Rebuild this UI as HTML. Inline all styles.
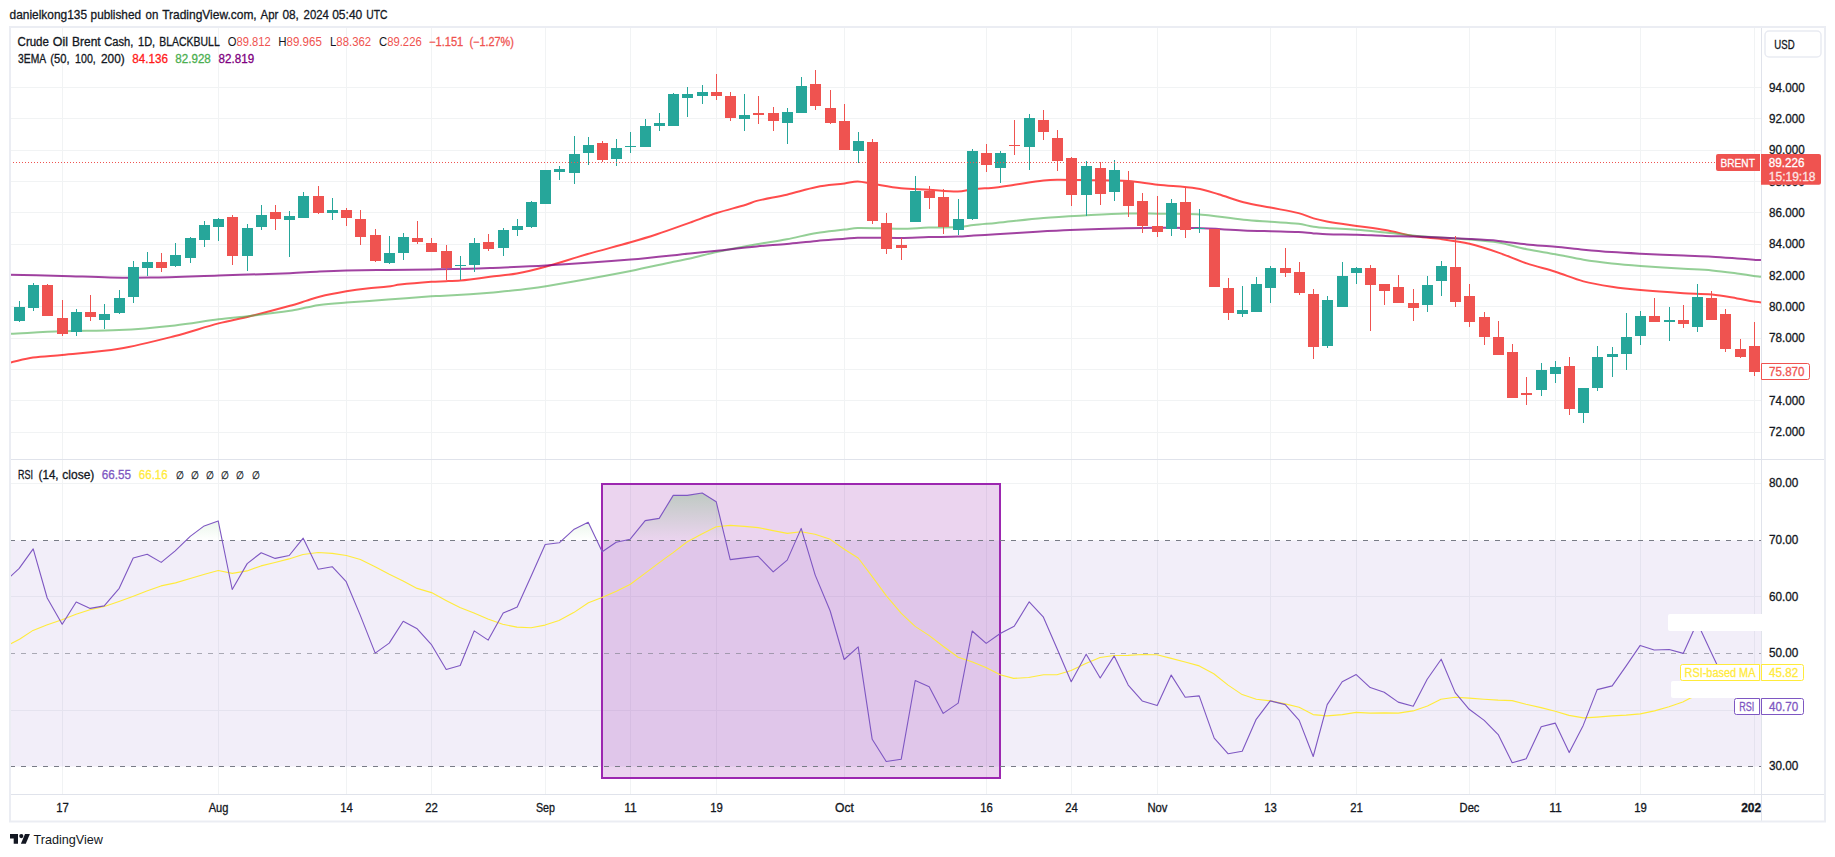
<!DOCTYPE html>
<html lang="en"><head><meta charset="utf-8"><title>Crude Oil Brent Cash chart</title>
<style>html,body{margin:0;padding:0;background:#fff}body{width:1835px;height:857px;overflow:hidden}</style></head>
<body>
<svg width="1835" height="857" viewBox="0 0 1835 857" font-family='"Liberation Sans", sans-serif' style="display:block">
<rect width="1835" height="857" fill="#fff"/>
<g shape-rendering="crispEdges">
<rect x="62" y="28" width="1" height="766" fill="#f1f3f4"/>
<rect x="218" y="28" width="1" height="766" fill="#f1f3f4"/>
<rect x="346" y="28" width="1" height="766" fill="#f1f3f4"/>
<rect x="431" y="28" width="1" height="766" fill="#f1f3f4"/>
<rect x="545" y="28" width="1" height="766" fill="#f1f3f4"/>
<rect x="630" y="28" width="1" height="766" fill="#f1f3f4"/>
<rect x="716" y="28" width="1" height="766" fill="#f1f3f4"/>
<rect x="844" y="28" width="1" height="766" fill="#f1f3f4"/>
<rect x="986" y="28" width="1" height="766" fill="#f1f3f4"/>
<rect x="1071" y="28" width="1" height="766" fill="#f1f3f4"/>
<rect x="1157" y="28" width="1" height="766" fill="#f1f3f4"/>
<rect x="1270" y="28" width="1" height="766" fill="#f1f3f4"/>
<rect x="1356" y="28" width="1" height="766" fill="#f1f3f4"/>
<rect x="1469" y="28" width="1" height="766" fill="#f1f3f4"/>
<rect x="1555" y="28" width="1" height="766" fill="#f1f3f4"/>
<rect x="1640" y="28" width="1" height="766" fill="#f1f3f4"/>
<rect x="1754" y="28" width="1" height="766" fill="#f1f3f4"/>
<rect x="10" y="87" width="1751" height="1" fill="#f1f3f4"/>
<rect x="10" y="118" width="1751" height="1" fill="#f1f3f4"/>
<rect x="10" y="150" width="1751" height="1" fill="#f1f3f4"/>
<rect x="10" y="181" width="1751" height="1" fill="#f1f3f4"/>
<rect x="10" y="212" width="1751" height="1" fill="#f1f3f4"/>
<rect x="10" y="244" width="1751" height="1" fill="#f1f3f4"/>
<rect x="10" y="275" width="1751" height="1" fill="#f1f3f4"/>
<rect x="10" y="306" width="1751" height="1" fill="#f1f3f4"/>
<rect x="10" y="338" width="1751" height="1" fill="#f1f3f4"/>
<rect x="10" y="369" width="1751" height="1" fill="#f1f3f4"/>
<rect x="10" y="400" width="1751" height="1" fill="#f1f3f4"/>
<rect x="10" y="432" width="1751" height="1" fill="#f1f3f4"/>
<rect x="10" y="483" width="1751" height="1" fill="#f1f3f4"/>
<rect x="10" y="596" width="1751" height="1" fill="#f1f3f4"/>
<rect x="10" y="710" width="1751" height="1" fill="#f1f3f4"/>
</g>
<defs>
<linearGradient id="ob" gradientUnits="userSpaceOnUse" x1="0" y1="370" x2="0" y2="540.5"><stop offset="0" stop-color="#4caf50" stop-opacity="1"/><stop offset="1" stop-color="#4caf50" stop-opacity="0"/></linearGradient>
<clipPath id="rsiclip"><rect x="10" y="460" width="1751" height="334"/></clipPath>
<clipPath id="mainclip"><rect x="10" y="28" width="1751" height="431"/></clipPath>
<clipPath id="above70"><rect x="10" y="460" width="1751" height="80.5"/></clipPath>
</defs>
<rect x="10" y="540.5" width="1751" height="226" fill="#7e57c2" fill-opacity="0.1"/>
<rect x="602" y="484" width="398" height="294" fill="#9c27b0" fill-opacity="0.2" stroke="#9c27b0" stroke-width="2"/>
<path d="M10.3,576.7 L19.2,568.4 L33.2,548.9 L47.2,598.0 L62.2,624.3 L76.2,602.0 L90.2,608.4 L104.2,605.9 L119.2,588.3 L133.2,558.0 L147.2,554.2 L161.2,562.4 L175.2,550.8 L190.2,536.4 L204.2,525.9 L218.2,520.9 L232.2,589.5 L247.2,563.6 L261.2,552.7 L275.2,558.4 L289.2,555.5 L303.2,538.2 L318.2,569.2 L332.2,566.7 L346.2,581.7 L360.2,615.1 L375.2,653.1 L389.2,643.1 L403.2,621.3 L417.2,628.8 L431.2,644.3 L446.2,669.5 L460.2,665.5 L474.2,630.9 L488.2,640.1 L503.2,613.1 L517.2,607.1 L531.2,575.9 L545.2,544.5 L559.2,542.8 L574.2,529.2 L588.2,522.2 L602.2,551.8 L616.2,542.2 L630.2,539.2 L645.2,520.6 L659.2,518.4 L673.2,495.4 L687.2,495.4 L702.2,493.0 L716.2,501.7 L730.2,559.6 L744.2,557.9 L758.2,556.3 L773.2,571.8 L787.2,560.1 L801.2,528.4 L815.2,575.1 L830.2,611.0 L844.2,659.5 L858.2,646.9 L872.2,739.3 L886.2,761.5 L901.2,759.3 L915.2,680.5 L929.2,686.7 L943.2,713.4 L958.2,703.1 L972.2,631.0 L986.2,643.4 L1000.2,633.5 L1014.2,626.3 L1029.2,601.8 L1043.2,616.8 L1057.2,649.0 L1071.2,681.7 L1086.2,654.2 L1100.2,678.0 L1114.2,655.9 L1128.2,685.1 L1142.2,700.9 L1157.2,705.6 L1171.2,675.1 L1185.2,697.2 L1199.2,695.9 L1214.2,738.1 L1228.2,753.8 L1242.2,751.3 L1256.2,719.3 L1270.2,700.9 L1285.2,704.6 L1299.2,720.4 L1313.2,756.5 L1327.2,704.6 L1342.2,681.7 L1356.2,674.6 L1370.2,687.6 L1384.2,692.2 L1398.2,702.1 L1413.2,706.3 L1427.2,679.2 L1441.2,659.2 L1455.2,692.6 L1469.2,709.3 L1484.2,720.4 L1498.2,734.6 L1512.2,762.7 L1526.2,758.8 L1541.2,726.8 L1555.2,723.1 L1569.2,752.6 L1583.2,725.4 L1597.2,689.6 L1612.2,685.9 L1626.2,665.9 L1640.2,645.4 L1654.2,650.0 L1669.2,649.5 L1683.2,653.4 L1697.2,622.5 L1711.2,652.5 L1725.2,682.0 L1740.2,690.0 L1754.2,705.5 L1754.2,540.5 L10.3,540.5 Z" fill="url(#ob)" clip-path="url(#above70)"/>
<g shape-rendering="crispEdges">
<line x1="10" y1="540.5" x2="1761" y2="540.5" stroke="#787b86" stroke-width="1" stroke-dasharray="5 6"/>
<line x1="10" y1="653.5" x2="1761" y2="653.5" stroke="#787b86" stroke-opacity="0.6" stroke-width="1" stroke-dasharray="5 6"/>
<line x1="10" y1="766.5" x2="1761" y2="766.5" stroke="#787b86" stroke-width="1" stroke-dasharray="5 6"/>
</g>
<polyline fill="none" stroke="#ffeb3b" stroke-width="1.1" stroke-linejoin="round" points="10.3,644.0 19.5,639.3 33.0,630.4 46.7,625.1 62.0,619.8 76.0,614.3 90.0,609.7 104.3,606.4 119.0,601.4 132.7,596.4 146.8,590.9 161.0,585.9 175.5,582.9 189.4,578.7 204.6,574.2 218.3,570.5 232.3,573.4 247.0,570.9 261.0,565.9 275.0,562.5 289.0,558.9 303.0,554.5 318.0,552.5 332.2,553.4 346.4,555.5 360.4,559.5 375.1,566.7 389.3,574.2 403.1,580.9 417.1,588.4 431.5,592.6 446.0,600.4 459.9,607.6 474.0,613.1 487.9,618.9 502.7,624.3 516.9,627.1 531.1,627.8 545.0,625.1 559.0,620.4 573.7,612.6 588.4,602.8 602.0,597.6 616.4,591.3 630.4,584.3 645.0,573.4 659.3,562.6 673.1,552.6 687.3,541.7 701.8,533.9 716.2,526.7 730.2,525.4 744.4,526.4 758.2,527.6 773.0,530.6 787.3,533.4 801.1,531.7 815.0,534.2 829.5,538.9 844.3,549.2 858.2,558.0 871.7,575.9 886.4,595.9 901.3,613.4 915.1,626.4 929.3,635.6 943.1,646.3 958.2,657.3 971.8,661.8 986.0,667.6 1000.2,674.7 1013.6,678.4 1028.6,677.5 1043.6,674.7 1057.0,674.7 1071.1,670.5 1085.8,663.4 1100.0,657.5 1114.0,655.5 1128.0,655.4 1142.0,654.5 1157.0,654.7 1171.2,658.4 1185.1,662.0 1199.3,665.9 1213.8,673.7 1228.1,685.1 1242.2,694.6 1256.3,699.2 1270.5,700.9 1285.2,703.9 1299.1,707.3 1313.1,714.6 1326.9,715.9 1342.3,714.6 1356.1,712.4 1370.0,713.1 1384.2,712.9 1398.3,713.1 1413.0,710.9 1427.5,705.9 1440.9,699.2 1455.1,697.2 1469.2,698.1 1483.9,699.2 1498.1,700.1 1512.1,700.6 1526.0,704.3 1541.0,707.6 1555.2,711.3 1569.0,715.4 1583.5,717.9 1596.9,717.1 1611.9,715.9 1626.1,715.1 1640.3,713.9 1654.5,710.9 1669.0,706.8 1682.8,701.9 1690.0,698.2 1711.0,690.0 1725.0,685.0 1740.0,681.0 1754.5,677.1" clip-path="url(#rsiclip)"/>
<polyline fill="none" stroke="#7e57c2" stroke-width="1.1" stroke-linejoin="round" points="10.3,576.7 19.2,568.4 33.2,548.9 47.2,598.0 62.2,624.3 76.2,602.0 90.2,608.4 104.2,605.9 119.2,588.3 133.2,558.0 147.2,554.2 161.2,562.4 175.2,550.8 190.2,536.4 204.2,525.9 218.2,520.9 232.2,589.5 247.2,563.6 261.2,552.7 275.2,558.4 289.2,555.5 303.2,538.2 318.2,569.2 332.2,566.7 346.2,581.7 360.2,615.1 375.2,653.1 389.2,643.1 403.2,621.3 417.2,628.8 431.2,644.3 446.2,669.5 460.2,665.5 474.2,630.9 488.2,640.1 503.2,613.1 517.2,607.1 531.2,575.9 545.2,544.5 559.2,542.8 574.2,529.2 588.2,522.2 602.2,551.8 616.2,542.2 630.2,539.2 645.2,520.6 659.2,518.4 673.2,495.4 687.2,495.4 702.2,493.0 716.2,501.7 730.2,559.6 744.2,557.9 758.2,556.3 773.2,571.8 787.2,560.1 801.2,528.4 815.2,575.1 830.2,611.0 844.2,659.5 858.2,646.9 872.2,739.3 886.2,761.5 901.2,759.3 915.2,680.5 929.2,686.7 943.2,713.4 958.2,703.1 972.2,631.0 986.2,643.4 1000.2,633.5 1014.2,626.3 1029.2,601.8 1043.2,616.8 1057.2,649.0 1071.2,681.7 1086.2,654.2 1100.2,678.0 1114.2,655.9 1128.2,685.1 1142.2,700.9 1157.2,705.6 1171.2,675.1 1185.2,697.2 1199.2,695.9 1214.2,738.1 1228.2,753.8 1242.2,751.3 1256.2,719.3 1270.2,700.9 1285.2,704.6 1299.2,720.4 1313.2,756.5 1327.2,704.6 1342.2,681.7 1356.2,674.6 1370.2,687.6 1384.2,692.2 1398.2,702.1 1413.2,706.3 1427.2,679.2 1441.2,659.2 1455.2,692.6 1469.2,709.3 1484.2,720.4 1498.2,734.6 1512.2,762.7 1526.2,758.8 1541.2,726.8 1555.2,723.1 1569.2,752.6 1583.2,725.4 1597.2,689.6 1612.2,685.9 1626.2,665.9 1640.2,645.4 1654.2,650.0 1669.2,649.5 1683.2,653.4 1697.2,622.5 1711.2,652.5 1725.2,682.0 1740.2,690.0 1754.2,705.5" clip-path="url(#rsiclip)"/>
<path fill="none" stroke="#ff0000" stroke-opacity="0.7" stroke-width="2" stroke-linejoin="round" d="M10.0,362.7 C17.7,361.00 25.3,358.72 33.0,357.6 C42.7,356.19 52.3,356.09 62.0,355.1 C81.0,353.16 100.0,352.01 119.0,348.8 C137.7,345.64 156.3,340.76 175.0,336.0 C189.5,332.29 204.1,327.22 218.6,323.4 C229.1,320.65 239.5,318.88 250.0,316.3 C263.3,313.01 276.7,309.47 290.0,305.8 C295.3,304.33 300.7,302.55 306.0,300.9 C310.5,299.52 314.9,297.76 319.4,296.7 C328.4,294.56 337.4,292.87 346.4,291.3 C353.3,290.10 360.1,289.17 367.0,288.4 C374.0,287.61 381.1,287.41 388.1,286.6 C392.1,286.14 396.0,285.04 400.0,284.6 C410.4,283.44 420.9,282.57 431.3,281.8 C436.2,281.44 441.1,281.43 446.0,281.2 C450.8,280.97 455.7,280.76 460.5,280.4 C463.7,280.16 466.8,279.79 470.0,279.4 C476.7,278.59 483.3,277.64 490.0,276.8 C498.9,275.67 507.9,275.11 516.8,273.5 C526.4,271.78 535.9,269.42 545.5,266.8 C559.3,263.02 573.0,258.26 586.8,254.3 C601.4,250.10 616.0,246.47 630.6,242.3 C639.4,239.80 648.1,237.21 656.9,234.3 C667.9,230.64 679.0,226.53 690.0,222.6 C698.9,219.43 707.8,215.84 716.7,213.0 C726.5,209.88 736.2,207.65 746.0,204.7 C749.6,203.62 753.1,201.77 756.7,200.9 C766.7,198.44 776.8,197.02 786.8,194.7 C796.8,192.39 806.8,188.95 816.8,187.0 C826.1,185.18 835.4,184.67 844.7,183.4 C849.0,182.81 853.4,181.34 857.7,181.4 C862.5,181.47 867.2,183.04 872.0,183.8 C881.7,185.34 891.3,187.29 901.0,188.3 C910.2,189.26 919.4,189.18 928.6,189.7 C938.3,190.25 948.1,191.61 957.8,191.5 C963.1,191.44 968.4,189.75 973.7,189.2 C981.1,188.42 988.6,188.30 996.0,187.5 C1002.2,186.83 1008.4,185.70 1014.6,184.8 C1024.3,183.40 1033.9,181.74 1043.6,180.6 C1048.1,180.07 1052.5,179.84 1057.0,179.8 C1068.0,179.71 1079.0,180.05 1090.0,180.2 C1096.7,180.29 1103.3,180.36 1110.0,180.5 C1116.2,180.63 1122.3,180.46 1128.5,181.0 C1138.2,181.86 1147.9,183.65 1157.6,184.7 C1170.7,186.12 1183.7,186.36 1196.8,188.4 C1204.0,189.53 1211.3,192.06 1218.5,194.2 C1226.8,196.66 1235.2,200.05 1243.5,202.2 C1252.5,204.52 1261.5,205.82 1270.5,207.6 C1279.9,209.45 1289.2,210.75 1298.6,213.1 C1303.6,214.35 1308.6,216.93 1313.6,218.4 C1318.0,219.70 1322.5,220.63 1326.9,221.4 C1336.8,223.13 1346.7,224.43 1356.6,225.9 C1366.2,227.33 1375.7,228.40 1385.3,230.1 C1395.8,231.97 1406.4,234.91 1416.9,236.6 C1425.3,237.94 1433.6,238.05 1442.0,239.2 C1451.2,240.45 1460.3,241.62 1469.5,243.8 C1479.1,246.09 1488.8,249.30 1498.4,252.6 C1507.8,255.83 1517.3,260.22 1526.7,263.4 C1536.3,266.62 1545.8,268.77 1555.4,271.8 C1564.8,274.77 1574.1,278.91 1583.5,281.4 C1592.9,283.91 1602.4,285.36 1611.8,286.8 C1621.4,288.26 1630.9,289.25 1640.5,290.1 C1654.9,291.38 1669.2,292.32 1683.6,293.2 C1693.1,293.78 1702.5,293.58 1712.0,294.5 C1720.3,295.31 1728.7,297.00 1737.0,298.4 C1742.6,299.33 1748.1,300.57 1753.7,301.5 C1756.1,301.91 1758.6,302.10 1761.0,302.4" clip-path="url(#mainclip)"/>
<path fill="none" stroke="#4caf50" stroke-opacity="0.6" stroke-width="2" stroke-linejoin="round" d="M10.0,333.8 C27.3,332.97 44.7,331.89 62.0,331.3 C81.0,330.66 100.0,331.09 119.0,330.1 C137.7,329.13 156.3,327.42 175.0,325.4 C189.5,323.82 204.1,321.14 218.6,319.3 C229.1,317.97 239.5,317.16 250.0,315.9 C263.3,314.29 276.7,312.68 290.0,310.7 C295.3,309.91 300.7,308.63 306.0,307.6 C310.5,306.73 314.9,305.55 319.4,305.0 C328.4,303.89 337.4,303.31 346.4,302.6 C360.3,301.51 374.2,300.65 388.1,299.6 C402.5,298.51 416.9,297.20 431.3,296.2 C434.2,296.00 437.1,296.14 440.0,296.0 C450.0,295.51 460.0,294.96 470.0,294.3 C476.7,293.86 483.3,293.34 490.0,292.7 C503.3,291.41 516.7,290.29 530.0,288.5 C544.5,286.56 559.0,284.02 573.5,281.5 C592.5,278.19 611.6,274.75 630.6,271.0 C644.9,268.18 659.3,264.82 673.6,261.8 C679.1,260.65 684.5,259.74 690.0,258.5 C698.9,256.48 707.8,253.89 716.7,252.0 C730.0,249.16 743.4,246.72 756.7,244.3 C766.7,242.48 776.8,241.20 786.8,239.3 C796.8,237.40 806.8,234.58 816.8,232.9 C826.1,231.34 835.4,230.74 844.7,229.6 C849.0,229.07 853.4,227.96 857.7,227.9 C872.1,227.69 886.6,228.86 901.0,228.8 C910.2,228.76 919.4,227.88 928.6,227.6 C938.3,227.31 948.1,227.64 957.8,227.1 C963.1,226.81 968.4,225.68 973.7,225.1 C981.1,224.28 988.6,223.67 996.0,222.9 C1011.9,221.27 1027.7,219.23 1043.6,217.9 C1058.1,216.69 1072.5,216.05 1087.0,215.3 C1100.0,214.62 1113.0,213.89 1126.0,213.6 C1136.5,213.36 1147.1,213.61 1157.6,213.7 C1170.7,213.81 1183.7,213.29 1196.8,214.2 C1212.4,215.29 1227.9,218.09 1243.5,219.7 C1252.5,220.63 1261.5,221.13 1270.5,221.8 C1279.9,222.50 1289.2,222.71 1298.6,223.8 C1303.6,224.38 1308.6,226.04 1313.6,226.8 C1318.0,227.47 1322.5,227.79 1326.9,228.1 C1336.8,228.79 1346.7,229.04 1356.6,229.8 C1366.2,230.54 1375.7,231.63 1385.3,232.6 C1395.8,233.67 1406.4,235.05 1416.9,235.9 C1434.4,237.32 1452.0,237.98 1469.5,239.4 C1479.1,240.18 1488.8,240.85 1498.4,242.5 C1507.8,244.12 1517.3,247.26 1526.7,249.2 C1536.3,251.16 1545.8,252.43 1555.4,254.2 C1564.8,255.93 1574.1,258.17 1583.5,259.7 C1592.9,261.24 1602.4,262.37 1611.8,263.4 C1621.4,264.44 1630.9,265.19 1640.5,265.9 C1654.9,266.96 1669.2,267.80 1683.6,268.7 C1693.1,269.30 1702.5,269.57 1712.0,270.4 C1720.3,271.13 1728.7,272.30 1737.0,273.4 C1742.6,274.13 1748.1,275.11 1753.7,275.9 C1756.1,276.24 1758.6,276.50 1761.0,276.8" clip-path="url(#mainclip)"/>
<path fill="none" stroke="#800080" stroke-opacity="0.74" stroke-width="2" stroke-linejoin="round" d="M10.0,274.7 C27.3,275.10 44.7,275.41 62.0,275.9 C78.0,276.35 94.0,277.19 110.0,277.5 C123.3,277.76 136.7,277.85 150.0,277.6 C172.9,277.18 195.7,276.22 218.6,275.5 C242.4,274.75 266.2,274.14 290.0,273.2 C299.8,272.81 309.6,271.97 319.4,271.5 C328.4,271.07 337.4,270.71 346.4,270.5 C360.3,270.18 374.2,270.08 388.1,269.9 C402.5,269.71 416.9,269.59 431.3,269.4 C444.2,269.23 457.1,269.09 470.0,268.8 C476.7,268.65 483.3,268.38 490.0,268.1 C508.5,267.32 527.0,266.72 545.5,265.6 C573.9,263.89 602.2,261.98 630.6,259.6 C650.4,257.94 670.2,255.55 690.0,253.5 C698.9,252.58 707.8,251.65 716.7,250.7 C730.0,249.28 743.4,247.69 756.7,246.4 C766.7,245.43 776.8,244.82 786.8,243.9 C796.8,242.98 806.8,241.78 816.8,240.9 C826.1,240.08 835.4,239.53 844.7,238.8 C849.0,238.46 853.4,237.77 857.7,237.7 C872.1,237.47 886.6,238.02 901.0,237.9 C910.2,237.82 919.4,237.31 928.6,237.1 C938.3,236.88 948.1,236.92 957.8,236.6 C963.1,236.42 968.4,235.92 973.7,235.6 C981.1,235.15 988.6,234.76 996.0,234.3 C1009.7,233.46 1023.3,232.49 1037.0,231.7 C1048.0,231.06 1059.0,230.42 1070.0,230.0 C1088.7,229.29 1107.3,228.77 1126.0,228.3 C1136.5,228.04 1147.1,227.83 1157.6,227.8 C1170.7,227.76 1183.7,227.70 1196.8,228.1 C1212.4,228.57 1227.9,229.72 1243.5,230.4 C1252.5,230.79 1261.5,231.02 1270.5,231.3 C1279.9,231.59 1289.2,231.64 1298.6,232.1 C1303.6,232.34 1308.6,233.01 1313.6,233.4 C1318.0,233.74 1322.5,234.16 1326.9,234.3 C1336.8,234.62 1346.7,234.53 1356.6,234.8 C1366.2,235.06 1375.7,235.61 1385.3,235.9 C1395.8,236.21 1406.4,236.21 1416.9,236.6 C1434.4,237.25 1452.0,238.07 1469.5,239.0 C1479.1,239.51 1488.8,239.99 1498.4,240.9 C1507.8,241.79 1517.3,243.44 1526.7,244.4 C1536.3,245.37 1545.8,245.81 1555.4,246.7 C1564.8,247.57 1574.1,248.80 1583.5,249.7 C1592.9,250.60 1602.4,251.44 1611.8,252.1 C1621.4,252.77 1630.9,253.23 1640.5,253.7 C1654.9,254.40 1669.2,255.00 1683.6,255.6 C1693.1,256.00 1702.5,256.20 1712.0,256.7 C1720.3,257.14 1728.7,257.80 1737.0,258.4 C1742.6,258.80 1748.1,259.31 1753.7,259.7 C1756.1,259.87 1758.6,259.97 1761.0,260.1" clip-path="url(#mainclip)"/>
<g shape-rendering="crispEdges">
<rect x="19" y="301" width="1" height="21" fill="#26a69a"/>
<rect x="14" y="307" width="11" height="14" fill="#26a69a"/>
<rect x="33" y="283" width="1" height="28" fill="#26a69a"/>
<rect x="28" y="285" width="11" height="23" fill="#26a69a"/>
<rect x="47" y="284" width="1" height="32" fill="#ef5350"/>
<rect x="42" y="285" width="11" height="31" fill="#ef5350"/>
<rect x="62" y="300" width="1" height="36" fill="#ef5350"/>
<rect x="57" y="318" width="11" height="16" fill="#ef5350"/>
<rect x="76" y="309" width="1" height="27" fill="#26a69a"/>
<rect x="71" y="312" width="11" height="20" fill="#26a69a"/>
<rect x="90" y="295" width="1" height="26" fill="#ef5350"/>
<rect x="85" y="312" width="11" height="5" fill="#ef5350"/>
<rect x="104" y="304" width="1" height="25" fill="#26a69a"/>
<rect x="99" y="314" width="11" height="6" fill="#26a69a"/>
<rect x="119" y="290" width="1" height="24" fill="#26a69a"/>
<rect x="114" y="298" width="11" height="15" fill="#26a69a"/>
<rect x="133" y="261" width="1" height="42" fill="#26a69a"/>
<rect x="128" y="267" width="11" height="30" fill="#26a69a"/>
<rect x="147" y="252" width="1" height="24" fill="#26a69a"/>
<rect x="142" y="262" width="11" height="6" fill="#26a69a"/>
<rect x="161" y="253" width="1" height="19" fill="#ef5350"/>
<rect x="156" y="262" width="11" height="6" fill="#ef5350"/>
<rect x="175" y="243" width="1" height="24" fill="#26a69a"/>
<rect x="170" y="255" width="11" height="11" fill="#26a69a"/>
<rect x="190" y="237" width="1" height="26" fill="#26a69a"/>
<rect x="185" y="238" width="11" height="20" fill="#26a69a"/>
<rect x="204" y="221" width="1" height="26" fill="#26a69a"/>
<rect x="199" y="225" width="11" height="15" fill="#26a69a"/>
<rect x="218" y="218" width="1" height="23" fill="#26a69a"/>
<rect x="213" y="219" width="11" height="8" fill="#26a69a"/>
<rect x="232" y="215" width="1" height="50" fill="#ef5350"/>
<rect x="227" y="217" width="11" height="39" fill="#ef5350"/>
<rect x="247" y="224" width="1" height="47" fill="#26a69a"/>
<rect x="242" y="228" width="11" height="28" fill="#26a69a"/>
<rect x="261" y="205" width="1" height="25" fill="#26a69a"/>
<rect x="256" y="215" width="11" height="12" fill="#26a69a"/>
<rect x="275" y="205" width="1" height="25" fill="#ef5350"/>
<rect x="270" y="212" width="11" height="7" fill="#ef5350"/>
<rect x="289" y="211" width="1" height="46" fill="#26a69a"/>
<rect x="284" y="216" width="11" height="4" fill="#26a69a"/>
<rect x="303" y="192" width="1" height="26" fill="#26a69a"/>
<rect x="298" y="196" width="11" height="22" fill="#26a69a"/>
<rect x="318" y="186" width="1" height="28" fill="#ef5350"/>
<rect x="313" y="196" width="11" height="17" fill="#ef5350"/>
<rect x="332" y="198" width="1" height="22" fill="#26a69a"/>
<rect x="327" y="210" width="11" height="3" fill="#26a69a"/>
<rect x="346" y="208" width="1" height="18" fill="#ef5350"/>
<rect x="341" y="210" width="11" height="8" fill="#ef5350"/>
<rect x="360" y="210" width="1" height="35" fill="#ef5350"/>
<rect x="355" y="219" width="11" height="18" fill="#ef5350"/>
<rect x="375" y="229" width="1" height="33" fill="#ef5350"/>
<rect x="370" y="235" width="11" height="26" fill="#ef5350"/>
<rect x="389" y="236" width="1" height="28" fill="#26a69a"/>
<rect x="384" y="253" width="11" height="10" fill="#26a69a"/>
<rect x="403" y="233" width="1" height="27" fill="#26a69a"/>
<rect x="398" y="237" width="11" height="16" fill="#26a69a"/>
<rect x="417" y="221" width="1" height="23" fill="#ef5350"/>
<rect x="412" y="238" width="11" height="4" fill="#ef5350"/>
<rect x="431" y="238" width="1" height="14" fill="#ef5350"/>
<rect x="426" y="243" width="11" height="9" fill="#ef5350"/>
<rect x="446" y="245" width="1" height="35" fill="#ef5350"/>
<rect x="441" y="251" width="11" height="17" fill="#ef5350"/>
<rect x="460" y="256" width="1" height="24" fill="#26a69a"/>
<rect x="455" y="265" width="11" height="1" fill="#26a69a"/>
<rect x="474" y="238" width="1" height="34" fill="#26a69a"/>
<rect x="469" y="243" width="11" height="22" fill="#26a69a"/>
<rect x="488" y="234" width="1" height="17" fill="#ef5350"/>
<rect x="483" y="242" width="11" height="7" fill="#ef5350"/>
<rect x="503" y="228" width="1" height="28" fill="#26a69a"/>
<rect x="498" y="230" width="11" height="18" fill="#26a69a"/>
<rect x="517" y="219" width="1" height="17" fill="#26a69a"/>
<rect x="512" y="226" width="11" height="4" fill="#26a69a"/>
<rect x="531" y="201" width="1" height="27" fill="#26a69a"/>
<rect x="526" y="202" width="11" height="25" fill="#26a69a"/>
<rect x="545" y="170" width="1" height="34" fill="#26a69a"/>
<rect x="540" y="170" width="11" height="34" fill="#26a69a"/>
<rect x="559" y="166" width="1" height="14" fill="#26a69a"/>
<rect x="554" y="169" width="11" height="3" fill="#26a69a"/>
<rect x="574" y="136" width="1" height="48" fill="#26a69a"/>
<rect x="569" y="154" width="11" height="19" fill="#26a69a"/>
<rect x="588" y="137" width="1" height="28" fill="#26a69a"/>
<rect x="583" y="145" width="11" height="8" fill="#26a69a"/>
<rect x="602" y="141" width="1" height="21" fill="#ef5350"/>
<rect x="597" y="143" width="11" height="17" fill="#ef5350"/>
<rect x="616" y="139" width="1" height="27" fill="#26a69a"/>
<rect x="611" y="148" width="11" height="11" fill="#26a69a"/>
<rect x="630" y="132" width="1" height="21" fill="#26a69a"/>
<rect x="625" y="146" width="11" height="1" fill="#26a69a"/>
<rect x="645" y="119" width="1" height="28" fill="#26a69a"/>
<rect x="640" y="126" width="11" height="21" fill="#26a69a"/>
<rect x="659" y="113" width="1" height="18" fill="#26a69a"/>
<rect x="654" y="123" width="11" height="3" fill="#26a69a"/>
<rect x="673" y="93" width="1" height="33" fill="#26a69a"/>
<rect x="668" y="94" width="11" height="32" fill="#26a69a"/>
<rect x="687" y="87" width="1" height="30" fill="#26a69a"/>
<rect x="682" y="94" width="11" height="4" fill="#26a69a"/>
<rect x="702" y="85" width="1" height="19" fill="#26a69a"/>
<rect x="697" y="92" width="11" height="4" fill="#26a69a"/>
<rect x="716" y="74" width="1" height="26" fill="#ef5350"/>
<rect x="711" y="92" width="11" height="4" fill="#ef5350"/>
<rect x="730" y="92" width="1" height="29" fill="#ef5350"/>
<rect x="725" y="96" width="11" height="22" fill="#ef5350"/>
<rect x="744" y="94" width="1" height="37" fill="#26a69a"/>
<rect x="739" y="115" width="11" height="4" fill="#26a69a"/>
<rect x="758" y="96" width="1" height="28" fill="#ef5350"/>
<rect x="753" y="113" width="11" height="2" fill="#ef5350"/>
<rect x="773" y="107" width="1" height="24" fill="#ef5350"/>
<rect x="768" y="113" width="11" height="8" fill="#ef5350"/>
<rect x="787" y="108" width="1" height="36" fill="#26a69a"/>
<rect x="782" y="112" width="11" height="11" fill="#26a69a"/>
<rect x="801" y="77" width="1" height="36" fill="#26a69a"/>
<rect x="796" y="86" width="11" height="27" fill="#26a69a"/>
<rect x="815" y="70" width="1" height="40" fill="#ef5350"/>
<rect x="810" y="84" width="11" height="22" fill="#ef5350"/>
<rect x="830" y="90" width="1" height="34" fill="#ef5350"/>
<rect x="825" y="108" width="11" height="15" fill="#ef5350"/>
<rect x="844" y="104" width="1" height="46" fill="#ef5350"/>
<rect x="839" y="121" width="11" height="29" fill="#ef5350"/>
<rect x="858" y="132" width="1" height="31" fill="#26a69a"/>
<rect x="853" y="141" width="11" height="10" fill="#26a69a"/>
<rect x="872" y="139" width="1" height="85" fill="#ef5350"/>
<rect x="867" y="142" width="11" height="79" fill="#ef5350"/>
<rect x="886" y="213" width="1" height="41" fill="#ef5350"/>
<rect x="881" y="223" width="11" height="26" fill="#ef5350"/>
<rect x="901" y="238" width="1" height="22" fill="#ef5350"/>
<rect x="896" y="245" width="11" height="3" fill="#ef5350"/>
<rect x="915" y="176" width="1" height="46" fill="#26a69a"/>
<rect x="910" y="191" width="11" height="31" fill="#26a69a"/>
<rect x="929" y="186" width="1" height="23" fill="#ef5350"/>
<rect x="924" y="191" width="11" height="7" fill="#ef5350"/>
<rect x="943" y="189" width="1" height="45" fill="#ef5350"/>
<rect x="938" y="197" width="11" height="30" fill="#ef5350"/>
<rect x="958" y="199" width="1" height="36" fill="#26a69a"/>
<rect x="953" y="219" width="11" height="11" fill="#26a69a"/>
<rect x="972" y="149" width="1" height="71" fill="#26a69a"/>
<rect x="967" y="151" width="11" height="68" fill="#26a69a"/>
<rect x="986" y="144" width="1" height="28" fill="#ef5350"/>
<rect x="981" y="153" width="11" height="12" fill="#ef5350"/>
<rect x="1000" y="151" width="1" height="32" fill="#26a69a"/>
<rect x="995" y="153" width="11" height="15" fill="#26a69a"/>
<rect x="1014" y="120" width="1" height="35" fill="#ef5350"/>
<rect x="1009" y="145" width="11" height="1" fill="#ef5350"/>
<rect x="1029" y="114" width="1" height="56" fill="#26a69a"/>
<rect x="1024" y="118" width="11" height="29" fill="#26a69a"/>
<rect x="1043" y="110" width="1" height="30" fill="#ef5350"/>
<rect x="1038" y="120" width="11" height="12" fill="#ef5350"/>
<rect x="1057" y="130" width="1" height="41" fill="#ef5350"/>
<rect x="1052" y="138" width="11" height="23" fill="#ef5350"/>
<rect x="1071" y="157" width="1" height="49" fill="#ef5350"/>
<rect x="1066" y="158" width="11" height="37" fill="#ef5350"/>
<rect x="1086" y="161" width="1" height="55" fill="#26a69a"/>
<rect x="1081" y="166" width="11" height="29" fill="#26a69a"/>
<rect x="1100" y="162" width="1" height="43" fill="#ef5350"/>
<rect x="1095" y="168" width="11" height="26" fill="#ef5350"/>
<rect x="1114" y="160" width="1" height="41" fill="#26a69a"/>
<rect x="1109" y="170" width="11" height="22" fill="#26a69a"/>
<rect x="1128" y="171" width="1" height="46" fill="#ef5350"/>
<rect x="1123" y="181" width="11" height="25" fill="#ef5350"/>
<rect x="1142" y="193" width="1" height="40" fill="#ef5350"/>
<rect x="1137" y="201" width="11" height="25" fill="#ef5350"/>
<rect x="1157" y="196" width="1" height="41" fill="#ef5350"/>
<rect x="1152" y="226" width="11" height="6" fill="#ef5350"/>
<rect x="1171" y="199" width="1" height="37" fill="#26a69a"/>
<rect x="1166" y="203" width="11" height="26" fill="#26a69a"/>
<rect x="1185" y="188" width="1" height="50" fill="#ef5350"/>
<rect x="1180" y="202" width="11" height="28" fill="#ef5350"/>
<rect x="1199" y="209" width="1" height="24" fill="#26a69a"/>
<rect x="1194" y="228" width="11" height="1" fill="#26a69a"/>
<rect x="1214" y="229" width="1" height="58" fill="#ef5350"/>
<rect x="1209" y="229" width="11" height="58" fill="#ef5350"/>
<rect x="1228" y="278" width="1" height="42" fill="#ef5350"/>
<rect x="1223" y="288" width="11" height="25" fill="#ef5350"/>
<rect x="1242" y="286" width="1" height="31" fill="#26a69a"/>
<rect x="1237" y="310" width="11" height="4" fill="#26a69a"/>
<rect x="1256" y="277" width="1" height="35" fill="#26a69a"/>
<rect x="1251" y="284" width="11" height="28" fill="#26a69a"/>
<rect x="1270" y="266" width="1" height="37" fill="#26a69a"/>
<rect x="1265" y="268" width="11" height="20" fill="#26a69a"/>
<rect x="1285" y="248" width="1" height="29" fill="#ef5350"/>
<rect x="1280" y="268" width="11" height="5" fill="#ef5350"/>
<rect x="1299" y="262" width="1" height="33" fill="#ef5350"/>
<rect x="1294" y="272" width="11" height="21" fill="#ef5350"/>
<rect x="1313" y="289" width="1" height="70" fill="#ef5350"/>
<rect x="1308" y="294" width="11" height="53" fill="#ef5350"/>
<rect x="1327" y="296" width="1" height="52" fill="#26a69a"/>
<rect x="1322" y="300" width="11" height="46" fill="#26a69a"/>
<rect x="1342" y="262" width="1" height="45" fill="#26a69a"/>
<rect x="1337" y="276" width="11" height="31" fill="#26a69a"/>
<rect x="1356" y="267" width="1" height="17" fill="#26a69a"/>
<rect x="1351" y="268" width="11" height="5" fill="#26a69a"/>
<rect x="1370" y="265" width="1" height="66" fill="#ef5350"/>
<rect x="1365" y="268" width="11" height="17" fill="#ef5350"/>
<rect x="1384" y="284" width="1" height="21" fill="#ef5350"/>
<rect x="1379" y="284" width="11" height="7" fill="#ef5350"/>
<rect x="1398" y="275" width="1" height="28" fill="#ef5350"/>
<rect x="1393" y="287" width="11" height="16" fill="#ef5350"/>
<rect x="1413" y="289" width="1" height="32" fill="#ef5350"/>
<rect x="1408" y="303" width="11" height="5" fill="#ef5350"/>
<rect x="1427" y="276" width="1" height="36" fill="#26a69a"/>
<rect x="1422" y="285" width="11" height="20" fill="#26a69a"/>
<rect x="1441" y="261" width="1" height="35" fill="#26a69a"/>
<rect x="1436" y="266" width="11" height="15" fill="#26a69a"/>
<rect x="1455" y="236" width="1" height="71" fill="#ef5350"/>
<rect x="1450" y="267" width="11" height="35" fill="#ef5350"/>
<rect x="1469" y="284" width="1" height="43" fill="#ef5350"/>
<rect x="1464" y="296" width="11" height="26" fill="#ef5350"/>
<rect x="1484" y="312" width="1" height="33" fill="#ef5350"/>
<rect x="1479" y="317" width="11" height="20" fill="#ef5350"/>
<rect x="1498" y="321" width="1" height="34" fill="#ef5350"/>
<rect x="1493" y="337" width="11" height="18" fill="#ef5350"/>
<rect x="1512" y="344" width="1" height="54" fill="#ef5350"/>
<rect x="1507" y="352" width="11" height="46" fill="#ef5350"/>
<rect x="1526" y="377" width="1" height="28" fill="#ef5350"/>
<rect x="1521" y="393" width="11" height="2" fill="#ef5350"/>
<rect x="1541" y="363" width="1" height="33" fill="#26a69a"/>
<rect x="1536" y="370" width="11" height="20" fill="#26a69a"/>
<rect x="1555" y="361" width="1" height="22" fill="#26a69a"/>
<rect x="1550" y="367" width="11" height="7" fill="#26a69a"/>
<rect x="1569" y="357" width="1" height="58" fill="#ef5350"/>
<rect x="1564" y="366" width="11" height="43" fill="#ef5350"/>
<rect x="1583" y="388" width="1" height="35" fill="#26a69a"/>
<rect x="1578" y="388" width="11" height="25" fill="#26a69a"/>
<rect x="1597" y="346" width="1" height="45" fill="#26a69a"/>
<rect x="1592" y="357" width="11" height="31" fill="#26a69a"/>
<rect x="1612" y="347" width="1" height="30" fill="#26a69a"/>
<rect x="1607" y="354" width="11" height="3" fill="#26a69a"/>
<rect x="1626" y="313" width="1" height="57" fill="#26a69a"/>
<rect x="1621" y="337" width="11" height="17" fill="#26a69a"/>
<rect x="1640" y="311" width="1" height="34" fill="#26a69a"/>
<rect x="1635" y="316" width="11" height="20" fill="#26a69a"/>
<rect x="1654" y="298" width="1" height="24" fill="#ef5350"/>
<rect x="1649" y="316" width="11" height="6" fill="#ef5350"/>
<rect x="1669" y="307" width="1" height="34" fill="#26a69a"/>
<rect x="1664" y="320" width="11" height="2" fill="#26a69a"/>
<rect x="1683" y="305" width="1" height="23" fill="#ef5350"/>
<rect x="1678" y="320" width="11" height="4" fill="#ef5350"/>
<rect x="1697" y="284" width="1" height="48" fill="#26a69a"/>
<rect x="1692" y="297" width="11" height="30" fill="#26a69a"/>
<rect x="1711" y="291" width="1" height="29" fill="#ef5350"/>
<rect x="1706" y="298" width="11" height="22" fill="#ef5350"/>
<rect x="1725" y="309" width="1" height="43" fill="#ef5350"/>
<rect x="1720" y="314" width="11" height="35" fill="#ef5350"/>
<rect x="1740" y="339" width="1" height="19" fill="#ef5350"/>
<rect x="1735" y="349" width="11" height="8" fill="#ef5350"/>
<rect x="1754" y="322" width="1" height="54" fill="#ef5350"/>
<rect x="1749" y="346" width="11" height="26" fill="#ef5350"/>
<line x1="10" y1="162.5" x2="1716" y2="162.5" stroke="#ef5350" stroke-width="1" stroke-dasharray="1 2"/>
</g>
<g shape-rendering="crispEdges">
<rect x="10" y="459" width="1815" height="1" fill="#e0e3eb"/>
<rect x="10" y="794" width="1815" height="1" fill="#e0e3eb"/>
<rect x="1761" y="28" width="1" height="793" fill="#e0e3eb"/>
</g>
<rect x="10" y="27" width="1815" height="794.5" fill="none" stroke="#ebedf3" stroke-width="2"/>
<text x="9.6" y="18.6" font-size="13" fill="#131722" stroke="#131722" stroke-width="0.3" textLength="77.4" lengthAdjust="spacingAndGlyphs">danielkong135</text>
<text x="90.6" y="18.6" font-size="13" fill="#131722" stroke="#131722" stroke-width="0.3" textLength="50.4" lengthAdjust="spacingAndGlyphs">published</text>
<text x="145.6" y="18.6" font-size="13" fill="#131722" stroke="#131722" stroke-width="0.3" textLength="12.8" lengthAdjust="spacingAndGlyphs">on</text>
<text x="162.2" y="18.6" font-size="13" fill="#131722" stroke="#131722" stroke-width="0.3" textLength="94.5" lengthAdjust="spacingAndGlyphs">TradingView.com,</text>
<text x="260.6" y="18.6" font-size="13" fill="#131722" stroke="#131722" stroke-width="0.3" textLength="17.8" lengthAdjust="spacingAndGlyphs">Apr</text>
<text x="282.4" y="18.6" font-size="13" fill="#131722" stroke="#131722" stroke-width="0.3" textLength="16.5" lengthAdjust="spacingAndGlyphs">08,</text>
<text x="303.6" y="18.6" font-size="13" fill="#131722" stroke="#131722" stroke-width="0.3" textLength="25.3" lengthAdjust="spacingAndGlyphs">2024</text>
<text x="332.2" y="18.6" font-size="13" fill="#131722" stroke="#131722" stroke-width="0.3" textLength="30.1" lengthAdjust="spacingAndGlyphs">05:40</text>
<text x="366.2" y="18.6" font-size="13" fill="#131722" stroke="#131722" stroke-width="0.3" textLength="21.2" lengthAdjust="spacingAndGlyphs">UTC</text>
<text x="17.6" y="45.5" font-size="12" fill="#131722" stroke="#131722" stroke-width="0.3" textLength="31.3" lengthAdjust="spacingAndGlyphs">Crude</text>
<text x="52.8" y="45.5" font-size="12" fill="#131722" stroke="#131722" stroke-width="0.3" textLength="15.2" lengthAdjust="spacingAndGlyphs">Oil</text>
<text x="72.1" y="45.5" font-size="12" fill="#131722" stroke="#131722" stroke-width="0.3" textLength="28.6" lengthAdjust="spacingAndGlyphs">Brent</text>
<text x="104.2" y="45.5" font-size="12" fill="#131722" stroke="#131722" stroke-width="0.3" textLength="29.2" lengthAdjust="spacingAndGlyphs">Cash,</text>
<text x="138.0" y="45.5" font-size="12" fill="#131722" stroke="#131722" stroke-width="0.3" textLength="17.2" lengthAdjust="spacingAndGlyphs">1D,</text>
<text x="159.3" y="45.5" font-size="12" fill="#131722" stroke="#131722" stroke-width="0.3" textLength="60.4" lengthAdjust="spacingAndGlyphs">BLACKBULL</text>
<text x="227.7" y="45.5" font-size="12" textLength="43.0" lengthAdjust="spacingAndGlyphs"><tspan fill="#131722">O</tspan><tspan fill="#ef5350">89.812</tspan></text>
<text x="278.2" y="45.5" font-size="12" textLength="43.6" lengthAdjust="spacingAndGlyphs"><tspan fill="#131722">H</tspan><tspan fill="#ef5350">89.965</tspan></text>
<text x="330.0" y="45.5" font-size="12" textLength="41.2" lengthAdjust="spacingAndGlyphs"><tspan fill="#131722">L</tspan><tspan fill="#ef5350">88.362</tspan></text>
<text x="379.0" y="45.5" font-size="12" textLength="42.7" lengthAdjust="spacingAndGlyphs"><tspan fill="#131722">C</tspan><tspan fill="#ef5350">89.226</tspan></text>
<text x="429.0" y="45.5" font-size="12" fill="#ef5350" stroke="#ef5350" stroke-width="0.3" textLength="34.3" lengthAdjust="spacingAndGlyphs">−1.151</text>
<text x="469.5" y="45.5" font-size="12" fill="#ef5350" stroke="#ef5350" stroke-width="0.3" textLength="44.4" lengthAdjust="spacingAndGlyphs">(−1.27%)</text>
<text x="18.1" y="62.8" font-size="12" fill="#131722" stroke="#131722" stroke-width="0.3" textLength="28.1" lengthAdjust="spacingAndGlyphs">3EMA</text>
<text x="50.3" y="62.8" font-size="12" fill="#131722" stroke="#131722" stroke-width="0.3" textLength="19.3" lengthAdjust="spacingAndGlyphs">(50,</text>
<text x="75.1" y="62.8" font-size="12" fill="#131722" stroke="#131722" stroke-width="0.3" textLength="20.7" lengthAdjust="spacingAndGlyphs">100,</text>
<text x="101.0" y="62.8" font-size="12" fill="#131722" stroke="#131722" stroke-width="0.3" textLength="23.7" lengthAdjust="spacingAndGlyphs">200)</text>
<text x="132.3" y="62.8" font-size="12" fill="#ff1a1a" stroke="#ff1a1a" stroke-width="0.3" textLength="35.6" lengthAdjust="spacingAndGlyphs">84.136</text>
<text x="175.3" y="62.8" font-size="12" fill="#4caf50" stroke="#4caf50" stroke-width="0.3" textLength="35.5" lengthAdjust="spacingAndGlyphs">82.928</text>
<text x="218.6" y="62.8" font-size="12" fill="#800080" stroke="#800080" stroke-width="0.3" textLength="35.5" lengthAdjust="spacingAndGlyphs">82.819</text>
<rect x="1765" y="31" width="56" height="26" rx="4" fill="#fff" stroke="#e9ebf2" stroke-width="1.5"/>
<text x="1774.3" y="48.8" font-size="12" fill="#131722" stroke="#131722" stroke-width="0.3" textLength="20.3" lengthAdjust="spacingAndGlyphs">USD</text>
<text x="1769.0" y="92.0" font-size="12" fill="#131722" stroke="#131722" stroke-width="0.3" textLength="35.7" lengthAdjust="spacingAndGlyphs">94.000</text>
<text x="1769.0" y="123.0" font-size="12" fill="#131722" stroke="#131722" stroke-width="0.3" textLength="35.7" lengthAdjust="spacingAndGlyphs">92.000</text>
<text x="1769.0" y="154.0" font-size="12" fill="#131722" stroke="#131722" stroke-width="0.3" textLength="35.7" lengthAdjust="spacingAndGlyphs">90.000</text>
<text x="1769.0" y="217.0" font-size="12" fill="#131722" stroke="#131722" stroke-width="0.3" textLength="35.7" lengthAdjust="spacingAndGlyphs">86.000</text>
<text x="1769.0" y="248.0" font-size="12" fill="#131722" stroke="#131722" stroke-width="0.3" textLength="35.7" lengthAdjust="spacingAndGlyphs">84.000</text>
<text x="1769.0" y="280.0" font-size="12" fill="#131722" stroke="#131722" stroke-width="0.3" textLength="35.7" lengthAdjust="spacingAndGlyphs">82.000</text>
<text x="1769.0" y="311.0" font-size="12" fill="#131722" stroke="#131722" stroke-width="0.3" textLength="35.7" lengthAdjust="spacingAndGlyphs">80.000</text>
<text x="1769.0" y="342.0" font-size="12" fill="#131722" stroke="#131722" stroke-width="0.3" textLength="35.7" lengthAdjust="spacingAndGlyphs">78.000</text>
<text x="1769.0" y="405.0" font-size="12" fill="#131722" stroke="#131722" stroke-width="0.3" textLength="35.7" lengthAdjust="spacingAndGlyphs">74.000</text>
<text x="1769.0" y="436.0" font-size="12" fill="#131722" stroke="#131722" stroke-width="0.3" textLength="35.7" lengthAdjust="spacingAndGlyphs">72.000</text>
<text x="1769.0" y="185.9" font-size="12" fill="#131722" stroke="#131722" stroke-width="0.3" textLength="35.7" lengthAdjust="spacingAndGlyphs">88.000</text>
<path d="M1718,154 H1760 V171 H1718 a2,2 0 0 1 -2,-2 V156 a2,2 0 0 1 2,-2 Z" fill="#ef5350"/>
<text x="1720.6" y="166.9" font-size="11" fill="#fff" stroke="#fff" stroke-width="0.3" textLength="34.2" lengthAdjust="spacingAndGlyphs">BRENT</text>
<path d="M1761,154 H1819 a2,2 0 0 1 2,2 V182.8 a2,2 0 0 1 -2,2 H1761 Z" fill="#ef5350"/>
<text x="1768.8" y="167.3" font-size="12" fill="#fff" stroke="#fff" stroke-width="0.3" textLength="35.7" lengthAdjust="spacingAndGlyphs">89.226</text>
<text x="1768.8" y="181.2" font-size="12" fill="#fff" stroke="#fff" stroke-width="0.3" textLength="46.7" lengthAdjust="spacingAndGlyphs" opacity="0.85">15:19:18</text>
<path d="M1761.5,363.5 H1807.5 a2,2 0 0 1 2,2 V377.5 a2,2 0 0 1 -2,2 H1761.5 Z" fill="#fff" stroke="#ef5350"/>
<text x="1769.1" y="375.7" font-size="12" fill="#ef5350" stroke="#ef5350" stroke-width="0.3" textLength="35.3" lengthAdjust="spacingAndGlyphs">75.870</text>
<text x="18.1" y="479.3" font-size="12" fill="#131722" stroke="#131722" stroke-width="0.3" textLength="15.0" lengthAdjust="spacingAndGlyphs">RSI</text>
<text x="38.6" y="479.3" font-size="12" fill="#131722" stroke="#131722" stroke-width="0.3" textLength="20.0" lengthAdjust="spacingAndGlyphs">(14,</text>
<text x="62.3" y="479.3" font-size="12" fill="#131722" stroke="#131722" stroke-width="0.3" textLength="32.0" lengthAdjust="spacingAndGlyphs">close)</text>
<text x="101.8" y="479.3" font-size="12" fill="#7e57c2" stroke="#7e57c2" stroke-width="0.3" textLength="29.2" lengthAdjust="spacingAndGlyphs">66.55</text>
<text x="138.8" y="479.3" font-size="12" fill="#ffeb3b" stroke="#ffeb3b" stroke-width="0.3" textLength="28.9" lengthAdjust="spacingAndGlyphs">66.16</text>
<text x="175.5" y="479.2" font-size="11" fill="#131722" stroke="#131722" stroke-width="0.3" textLength="8.2" lengthAdjust="spacingAndGlyphs">∅</text>
<text x="191.0" y="479.2" font-size="11" fill="#131722" stroke="#131722" stroke-width="0.3" textLength="8.2" lengthAdjust="spacingAndGlyphs">∅</text>
<text x="206.0" y="479.2" font-size="11" fill="#131722" stroke="#131722" stroke-width="0.3" textLength="8.2" lengthAdjust="spacingAndGlyphs">∅</text>
<text x="221.0" y="479.2" font-size="11" fill="#131722" stroke="#131722" stroke-width="0.3" textLength="8.2" lengthAdjust="spacingAndGlyphs">∅</text>
<text x="236.0" y="479.2" font-size="11" fill="#131722" stroke="#131722" stroke-width="0.3" textLength="8.2" lengthAdjust="spacingAndGlyphs">∅</text>
<text x="252.2" y="479.2" font-size="11" fill="#131722" stroke="#131722" stroke-width="0.3" textLength="8.2" lengthAdjust="spacingAndGlyphs">∅</text>
<text x="1769.0" y="487.0" font-size="12" fill="#131722" stroke="#131722" stroke-width="0.3" textLength="29.4" lengthAdjust="spacingAndGlyphs">80.00</text>
<text x="1769.0" y="544.0" font-size="12" fill="#131722" stroke="#131722" stroke-width="0.3" textLength="29.4" lengthAdjust="spacingAndGlyphs">70.00</text>
<text x="1769.0" y="601.0" font-size="12" fill="#131722" stroke="#131722" stroke-width="0.3" textLength="29.4" lengthAdjust="spacingAndGlyphs">60.00</text>
<text x="1769.0" y="657.0" font-size="12" fill="#131722" stroke="#131722" stroke-width="0.3" textLength="29.4" lengthAdjust="spacingAndGlyphs">50.00</text>
<text x="1769.0" y="770.0" font-size="12" fill="#131722" stroke="#131722" stroke-width="0.3" textLength="29.4" lengthAdjust="spacingAndGlyphs">30.00</text>
<path d="M1670,614 H1762 V631 H1670 a2,2 0 0 1 -2,-2 V616 a2,2 0 0 1 2,-2 Z" fill="#fff" stroke="none"/>
<path d="M1673,681 H1762 V698 H1673 a2,2 0 0 1 -2,-2 V683 a2,2 0 0 1 2,-2 Z" fill="#fff" stroke="none"/>
<path d="M1682.5,664.5 H1759.5 V680.5 H1682.5 a2,2 0 0 1 -2,-2 V666.5 a2,2 0 0 1 2,-2 Z" fill="#fff" stroke="#ffeb3b"/>
<text x="1684.6" y="677.0" font-size="12" fill="#ffeb3b" stroke="#ffeb3b" stroke-width="0.3" textLength="70.8" lengthAdjust="spacingAndGlyphs">RSI-based MA</text>
<path d="M1761.5,664.5 H1801.5 a2,2 0 0 1 2,2 V678.5 a2,2 0 0 1 -2,2 H1761.5 Z" fill="#fff" stroke="#ffeb3b"/>
<text x="1769.1" y="677.0" font-size="12" fill="#ffeb3b" stroke="#ffeb3b" stroke-width="0.3" textLength="29.1" lengthAdjust="spacingAndGlyphs">45.82</text>
<path d="M1736.5,698.5 H1759.5 V714.5 H1736.5 a2,2 0 0 1 -2,-2 V700.5 a2,2 0 0 1 2,-2 Z" fill="#fff" stroke="#7e57c2"/>
<text x="1739.3" y="710.7" font-size="12" fill="#7e57c2" stroke="#7e57c2" stroke-width="0.3" textLength="15.1" lengthAdjust="spacingAndGlyphs">RSI</text>
<path d="M1761.5,698.5 H1801.5 a2,2 0 0 1 2,2 V712.5 a2,2 0 0 1 -2,2 H1761.5 Z" fill="#fff" stroke="#7e57c2"/>
<text x="1769.1" y="710.7" font-size="12" fill="#7e57c2" stroke="#7e57c2" stroke-width="0.3" textLength="29.1" lengthAdjust="spacingAndGlyphs">40.70</text>
<text x="56.2" y="812.1" font-size="12" fill="#131722" stroke="#131722" stroke-width="0.3" textLength="12.6" lengthAdjust="spacingAndGlyphs">17</text>
<text x="208.7" y="812.1" font-size="12" fill="#131722" stroke="#131722" stroke-width="0.3" textLength="19.7" lengthAdjust="spacingAndGlyphs">Aug</text>
<text x="340.2" y="812.1" font-size="12" fill="#131722" stroke="#131722" stroke-width="0.3" textLength="12.6" lengthAdjust="spacingAndGlyphs">14</text>
<text x="425.2" y="812.1" font-size="12" fill="#131722" stroke="#131722" stroke-width="0.3" textLength="12.6" lengthAdjust="spacingAndGlyphs">22</text>
<text x="536.0" y="812.1" font-size="12" fill="#131722" stroke="#131722" stroke-width="0.3" textLength="19.0" lengthAdjust="spacingAndGlyphs">Sep</text>
<text x="624.2" y="812.1" font-size="12" fill="#131722" stroke="#131722" stroke-width="0.3" textLength="12.6" lengthAdjust="spacingAndGlyphs">11</text>
<text x="710.2" y="812.1" font-size="12" fill="#131722" stroke="#131722" stroke-width="0.3" textLength="12.6" lengthAdjust="spacingAndGlyphs">19</text>
<text x="835.1" y="812.1" font-size="12" fill="#131722" stroke="#131722" stroke-width="0.3" textLength="18.8" lengthAdjust="spacingAndGlyphs">Oct</text>
<text x="980.2" y="812.1" font-size="12" fill="#131722" stroke="#131722" stroke-width="0.3" textLength="12.6" lengthAdjust="spacingAndGlyphs">16</text>
<text x="1065.2" y="812.1" font-size="12" fill="#131722" stroke="#131722" stroke-width="0.3" textLength="12.6" lengthAdjust="spacingAndGlyphs">24</text>
<text x="1147.5" y="812.1" font-size="12" fill="#131722" stroke="#131722" stroke-width="0.3" textLength="20.0" lengthAdjust="spacingAndGlyphs">Nov</text>
<text x="1264.2" y="812.1" font-size="12" fill="#131722" stroke="#131722" stroke-width="0.3" textLength="12.6" lengthAdjust="spacingAndGlyphs">13</text>
<text x="1350.2" y="812.1" font-size="12" fill="#131722" stroke="#131722" stroke-width="0.3" textLength="12.6" lengthAdjust="spacingAndGlyphs">21</text>
<text x="1459.6" y="812.1" font-size="12" fill="#131722" stroke="#131722" stroke-width="0.3" textLength="19.8" lengthAdjust="spacingAndGlyphs">Dec</text>
<text x="1549.2" y="812.1" font-size="12" fill="#131722" stroke="#131722" stroke-width="0.3" textLength="12.6" lengthAdjust="spacingAndGlyphs">11</text>
<text x="1634.2" y="812.1" font-size="12" fill="#131722" stroke="#131722" stroke-width="0.3" textLength="12.6" lengthAdjust="spacingAndGlyphs">19</text>
<clipPath id="tclip"><rect x="10" y="795" width="1751" height="26"/></clipPath>
<text x="1754.5" y="812.1" font-size="12" fill="#131722" stroke="#131722" stroke-width="0.3" text-anchor="middle" font-weight="bold" clip-path="url(#tclip)">2024</text>
<g fill="#131722"><path d="M10,834 H18 V843.8 H13.7 V838.5 H10 Z"/><circle cx="21.3" cy="836.1" r="2.1"/><path d="M25,834 H29.9 L25.8,843.8 H20.9 Z"/></g>
<text x="33.5" y="843.8" font-size="13" fill="#131722" textLength="69.5" lengthAdjust="spacingAndGlyphs">TradingView</text>
</svg>
</body></html>
